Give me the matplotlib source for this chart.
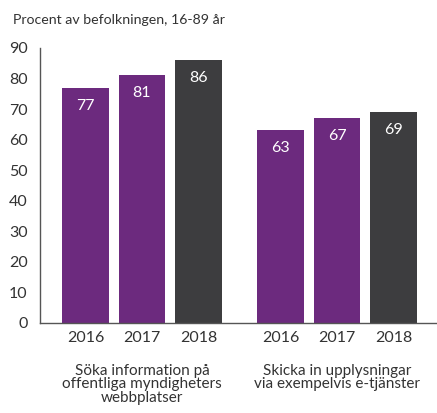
import numpy as np
from matplotlib import pyplot as plt

plt.rcParams['font.family'] = ['Lato', 'DejaVu Sans']

years = ['2016', '2017', '2018', '2016', '2017', '2018']
values = [77, 81, 86, 63, 67, 69]
groups = ['Söka information på\noffentliga myndigheters\nwebbplatser',
          'Skicka in upplysningar\nvia exempelvis e-tjänster']

purple = '#6c2a7e'
dark = '#3d3d3f'
text_col = '#333333'
colors = [purple, purple, dark, purple, purple, dark]
positions = [0, 1, 2, 3.45, 4.45, 5.45]

fig = plt.figure(figsize=(4.37, 4.13), dpi=100)
ax = fig.add_axes([0.0915, 0.218, 0.9085, 0.666])

bars = ax.bar(positions, values, width=0.83, color=colors)
for x, v in zip(positions, values):
    ax.annotate(str(v), (x, v), xytext=(0, -13), textcoords='offset points',
                ha='center', va='center', color='white', fontsize=11.5)

ax.set_ylim(0, 90)
ax.set_xlim(-0.805, 6.22)
ax.set_yticks(range(0, 91, 10))
ax.set_xticks(positions)
ax.set_xticklabels(years)
ax.tick_params(axis='both', length=0, labelsize=11.5, colors=text_col, pad=6)
ax.tick_params(axis='y', pad=9)
for s in ['top', 'right']:
    ax.spines[s].set_visible(False)
for s in ['left', 'bottom']:
    ax.spines[s].set_color('#555555')
    ax.spines[s].set_linewidth(1)

# group labels
for cx, g in zip([1, 4.45], groups):
    ax.text(cx, -0.148, g, transform=ax.get_xaxis_transform(), ha='center', va='top',
            fontsize=11, color=text_col, linespacing=0.95)

fig.text(13 / 437, 1 - 20 / 413, 'Procent av befolkningen, 16-89 år', fontsize=10.2,
         color=text_col, va='center', ha='left')

fig.savefig('out.png', dpi=100)
